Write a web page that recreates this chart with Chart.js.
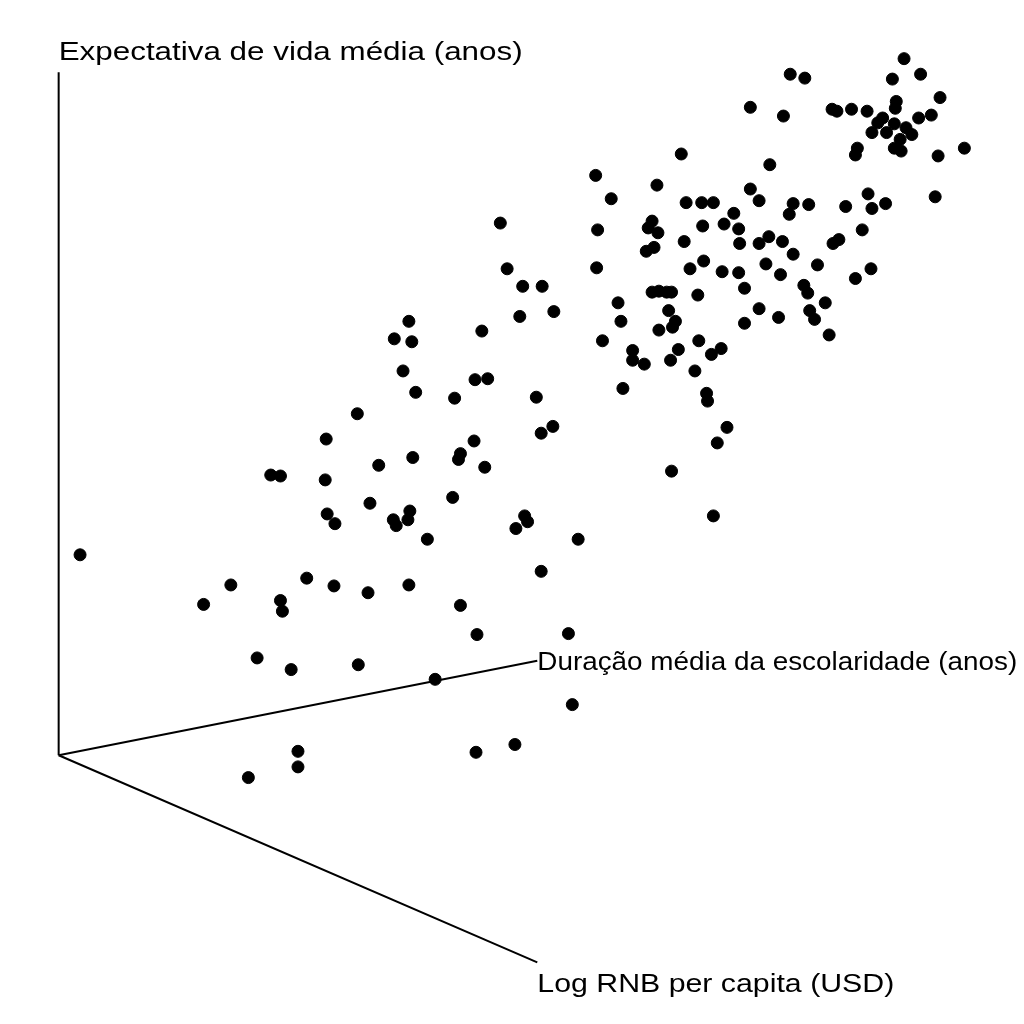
<!DOCTYPE html>
<html><head><meta charset="utf-8">
<script src="https://cdn.jsdelivr.net/npm/chart.js@4"></script>
<style>html,body{margin:0;padding:0;background:#fff}</style>
</head><body>
<canvas id="c" width="1024" height="1024"></canvas>
<script>
// projected screen positions of each country (x, y in picture units)
const pointsX = [915,798,813,932,903,952,757,791,841,846,861,877,907,906,893,930,943,905,888,882,897,917,923,911,905,867,865,977,950,912,686,777,598,661,614,757,766,691,707,719,740,801,817,797,855,878,882,896,947,500,656,652,662,600,730,708,689,746,766,776,790,745,848,842,872,658,650,801,709,695,773,826,599,728,745,788,865,881,507,523,543,656,671,663,676,703,751,812,816,834,621,673,766,818,786,823,555,520,624,680,751,663,677,838,481,406,391,409,605,704,636,683,727,636,648,675,717,700,400,487,474,626,413,453,537,712,713,353,554,542,733,723,473,321,459,457,410,375,264,274,484,320,676,451,366,407,322,525,528,330,390,405,393,516,719,425,580,68,542,223,301,329,364,406,195,274,276,459,476,570,250,285,354,433,574,292,292,241,475,515];
const pointsY = [46,62,66,62,67,86,96,105,98,100,98,100,90,97,107,107,104,113,112,122,122,117,124,129,138,138,145,138,146,141,144,155,166,176,190,180,192,194,194,194,205,195,196,206,198,185,200,195,188,215,213,220,225,222,216,218,234,236,236,229,234,221,232,236,222,240,244,247,254,262,257,258,261,265,266,268,272,262,262,280,280,286,286,285,286,289,282,279,287,297,297,305,303,305,312,314,306,311,316,316,318,325,322,330,326,316,334,337,336,336,346,345,344,356,360,356,350,367,367,375,376,385,389,395,394,390,398,411,424,431,425,441,439,437,452,458,456,464,474,475,466,479,470,497,503,511,514,516,522,524,520,520,526,529,516,540,540,556,573,587,580,588,595,587,607,603,614,608,638,637,662,674,669,684,710,758,774,785,759,751];
const axisLines = [
  [[46,60],[46,762]],
  [[46,762],[538,665]],
  [[46,762],[538,975]]
];
const axisLabels = ["Expectativa de vida média (anos)","Duração média da escolaridade (anos)","Log RNB per capita (USD)"];
const labelPos = [[46,40],[538,667],[538,998]];
const labelWidth = [464,480,357];

const datasets = [{
  type:'scatter',
  data: pointsX.map((x,i)=>({x, y:pointsY[i]})),
  backgroundColor:'#000', borderColor:'#000', pointRadius:6, pointHoverRadius:6
}];
axisLines.forEach(l=>datasets.push({
  type:'line', data:l.map(p=>({x:p[0],y:p[1]})), borderColor:'#000', borderWidth:2,
  pointRadius:0, fill:false
}));
const labelPlugin = {
  id:'labels',
  afterDatasetsDraw(chart){
    const {ctx, scales:{x,y}} = chart;
    ctx.save();
    ctx.fillStyle='#000';
    ctx.font='26px "Liberation Sans", Arial, sans-serif';
    ctx.textBaseline='middle';
    ctx.textAlign='left';
    axisLabels.forEach((t,i)=>{
      const px = x.getPixelForValue(labelPos[i][0]), py = y.getPixelForValue(labelPos[i][1]);
      const s = labelWidth[i]/ctx.measureText(t).width;
      ctx.save(); ctx.translate(px,py); ctx.scale(s,1); ctx.fillText(t,0,0); ctx.restore();
    });
    ctx.restore();
  }
};
new Chart(document.getElementById('c'),{
  data:{datasets},
  options:{
    responsive:false, animation:false,
    layout:{padding:0},
    plugins:{legend:{display:false}, tooltip:{enabled:false}},
    scales:{
      x:{type:'linear', min:-7.1, max:1031.1, display:false},
      y:{type:'linear', min:-7.1, max:1031.1, reverse:true, display:false}
    }
  },
  plugins:[labelPlugin]
});
</script>
</body></html>
